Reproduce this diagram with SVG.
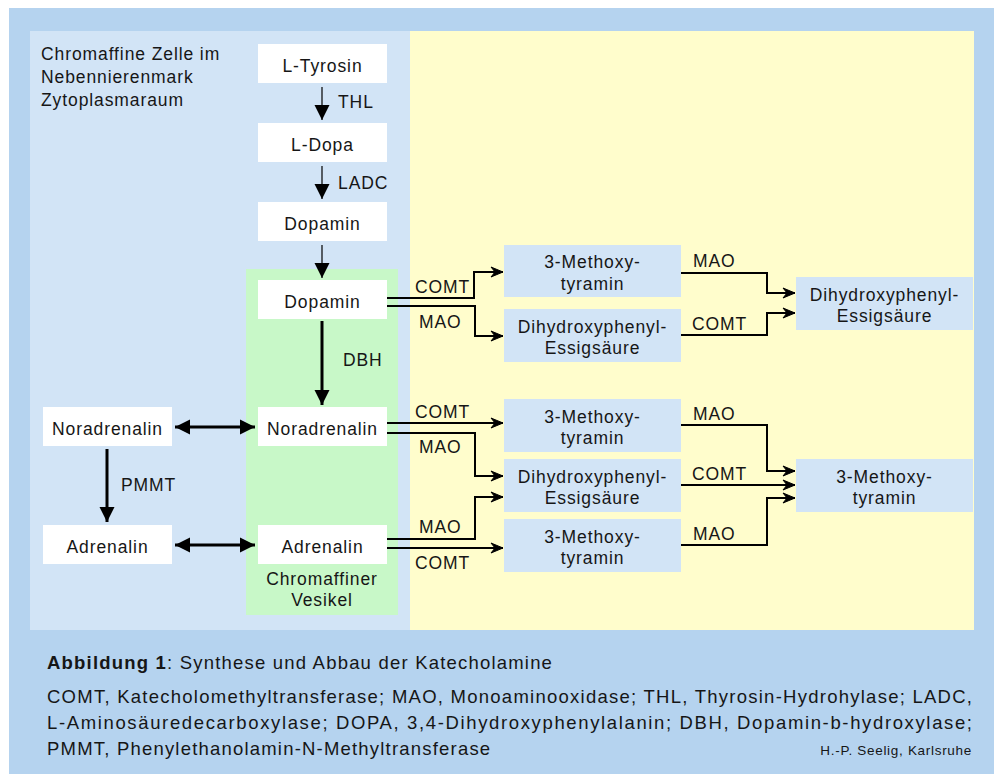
<svg xmlns="http://www.w3.org/2000/svg" width="994" height="774" viewBox="0 0 994 774">
<defs>
<style>
text{font-family:"Liberation Sans",Arial,Helvetica,sans-serif;fill:#161616;font-size:17.5px;letter-spacing:0.9px}
.c{text-anchor:middle}
.node{fill:#ffffff}
.box{fill:#d2e4f6}
.ln{fill:none;stroke:#000;stroke-width:2}
.thin{fill:none;stroke:#000;stroke-width:1.2}
.thick{fill:none;stroke:#000;stroke-width:3}
.cap{font-size:18.5px;letter-spacing:1.2px}
</style>
<marker id="chev" markerUnits="userSpaceOnUse" markerWidth="14" markerHeight="12" viewBox="0 0 14 12" refX="13" refY="6" orient="auto">
<path d="M1,1 L13,6 L1,11 L5,6 z" fill="#000" stroke="#000" stroke-width="1" stroke-linejoin="miter"/>
</marker>
<marker id="tri" markerUnits="userSpaceOnUse" markerWidth="16" markerHeight="16" viewBox="0 0 16 16" refX="15" refY="8" orient="auto-start-reverse">
<path d="M0,0.5 L15,8 L0,15.5 z" fill="#000"/>
</marker>
</defs>
<rect x="9" y="8" width="985" height="766" fill="#b5d3ef"/>
<rect x="30" y="31" width="380" height="599" fill="#d2e4f6"/>
<rect x="410" y="31" width="564" height="599" fill="#fffdcc"/>
<rect x="246" y="269" width="152" height="346" fill="#c8f8c8"/>
<text x="41" y="60">Chromaffine Zelle im</text>
<text x="41" y="83">Nebennierenmark</text>
<text x="41" y="106">Zytoplasmaraum</text>
<text class="c" x="322" y="585">Chromaffiner</text>
<text class="c" x="322" y="606">Vesikel</text>
<g id="n-ltyrosin"><rect class="node" x="258" y="44" width="129" height="39"/><text class="c" x="322.5" y="72">L-Tyrosin</text></g>
<g id="n-ldopa"><rect class="node" x="258" y="123" width="129" height="39"/><text class="c" x="322.5" y="151">L-Dopa</text></g>
<g id="n-dopamin1"><rect class="node" x="258" y="202" width="129" height="39"/><text class="c" x="322.5" y="230">Dopamin</text></g>
<g id="n-dopamin2"><rect class="node" x="258" y="280" width="129" height="39"/><text class="c" x="322.5" y="308">Dopamin</text></g>
<g id="n-noradr2"><rect class="node" x="258" y="407" width="129" height="39"/><text class="c" x="322.5" y="435">Noradrenalin</text></g>
<g id="n-adr2"><rect class="node" x="258" y="525" width="129" height="39"/><text class="c" x="322.5" y="553">Adrenalin</text></g>
<g id="n-noradr1"><rect class="node" x="43" y="407" width="129" height="39"/><text class="c" x="107.5" y="435">Noradrenalin</text></g>
<g id="n-adr1"><rect class="node" x="43" y="525" width="129" height="39"/><text class="c" x="107.5" y="553">Adrenalin</text></g>
<g id="n-mt1"><rect class="box" x="504" y="245" width="177" height="52"/><text class="c" x="592.5" y="268">3-Methoxy-</text><text class="c" x="592.5" y="290">tyramin</text></g>
<g id="n-dhp1"><rect class="box" x="504" y="309" width="177" height="53"/><text class="c" x="592.5" y="333">Dihydroxyphenyl-</text><text class="c" x="592.5" y="354">Essigsäure</text></g>
<g id="n-dhpR"><rect class="box" x="796" y="277" width="177" height="53"/><text class="c" x="884.5" y="301">Dihydroxyphenyl-</text><text class="c" x="884.5" y="322">Essigsäure</text></g>
<g id="n-mt2"><rect class="box" x="504" y="399" width="177" height="53"/><text class="c" x="592.5" y="423">3-Methoxy-</text><text class="c" x="592.5" y="444">tyramin</text></g>
<g id="n-dhp2"><rect class="box" x="504" y="459" width="177" height="53"/><text class="c" x="592.5" y="483">Dihydroxyphenyl-</text><text class="c" x="592.5" y="504">Essigsäure</text></g>
<g id="n-mt3"><rect class="box" x="504" y="519" width="177" height="53"/><text class="c" x="592.5" y="543">3-Methoxy-</text><text class="c" x="592.5" y="564">tyramin</text></g>
<g id="n-mtR"><rect class="box" x="796" y="459" width="177" height="53"/><text class="c" x="884.5" y="483">3-Methoxy-</text><text class="c" x="884.5" y="504">tyramin</text></g>
<g id="connectors">
<path class="thin" d="M322,87 V120" marker-end="url(#tri)"/>
<path class="thin" d="M322,166 V199" marker-end="url(#tri)"/>
<path class="thin" d="M322,245 V278" marker-end="url(#tri)"/>
<path class="thick" d="M322,321 V405" marker-end="url(#tri)"/>
<path class="thick" d="M107,449 V522" marker-end="url(#tri)"/>
<path class="thick" d="M175,427 H255" marker-start="url(#tri)" marker-end="url(#tri)"/>
<path class="thick" d="M175,545 H255" marker-start="url(#tri)" marker-end="url(#tri)"/>
<path class="ln" d="M387,298 H474 V272 H503" marker-end="url(#chev)"/>
<path class="ln" d="M387,306 H475 V336 H503" marker-end="url(#chev)"/>
<path class="ln" d="M681,273 H767 V293 H795" marker-end="url(#chev)"/>
<path class="ln" d="M681,335 H767 V313 H795" marker-end="url(#chev)"/>
<path class="ln" d="M387,423 H503" marker-end="url(#chev)"/>
<path class="ln" d="M387,433 H475 V476 H503" marker-end="url(#chev)"/>
<path class="ln" d="M387,539 H475 V497 H503" marker-end="url(#chev)"/>
<path class="ln" d="M387,548 H503" marker-end="url(#chev)"/>
<path class="ln" d="M681,425 H767 V471 H795" marker-end="url(#chev)"/>
<path class="ln" d="M681,485 H795" marker-end="url(#chev)"/>
<path class="ln" d="M681,545 H767 V498 H795" marker-end="url(#chev)"/>
</g>
<g id="labels">
<text x="338" y="108">THL</text>
<text x="338" y="189">LADC</text>
<text x="343" y="366">DBH</text>
<text x="121" y="491">PMMT</text>
<text x="415" y="293">COMT</text>
<text x="419" y="328">MAO</text>
<text x="693" y="267">MAO</text>
<text x="692" y="330">COMT</text>
<text x="415" y="418">COMT</text>
<text x="419" y="453">MAO</text>
<text x="419" y="533">MAO</text>
<text x="415" y="569">COMT</text>
<text x="693" y="420">MAO</text>
<text x="692" y="480">COMT</text>
<text x="693" y="540">MAO</text>
</g>
<g id="caption">
<text class="cap" x="47" y="669"><tspan font-weight="bold">Abbildung 1</tspan>: Synthese und Abbau der Katecholamine</text>
<text class="cap" x="47" y="703" textLength="925" lengthAdjust="spacing" style="letter-spacing:0">COMT, Katecholomethyltransferase; MAO, Monoaminooxidase; THL, Thyrosin-Hydrohylase; LADC,</text>
<text class="cap" x="47" y="729" textLength="925" lengthAdjust="spacing" style="letter-spacing:0">L-Aminosäuredecarboxylase;  DOPA,  3,4-Dihydroxyphenylalanin;  DBH,  Dopamin-b-hydroxylase;</text>
<text class="cap" x="47" y="755">PMMT, Phenylethanolamin-N-Methyltransferase</text>
<text x="972" y="755" style="font-size:13.5px;letter-spacing:0.7px;text-anchor:end">H.-P. Seelig, Karlsruhe</text>
</g>
</svg>
